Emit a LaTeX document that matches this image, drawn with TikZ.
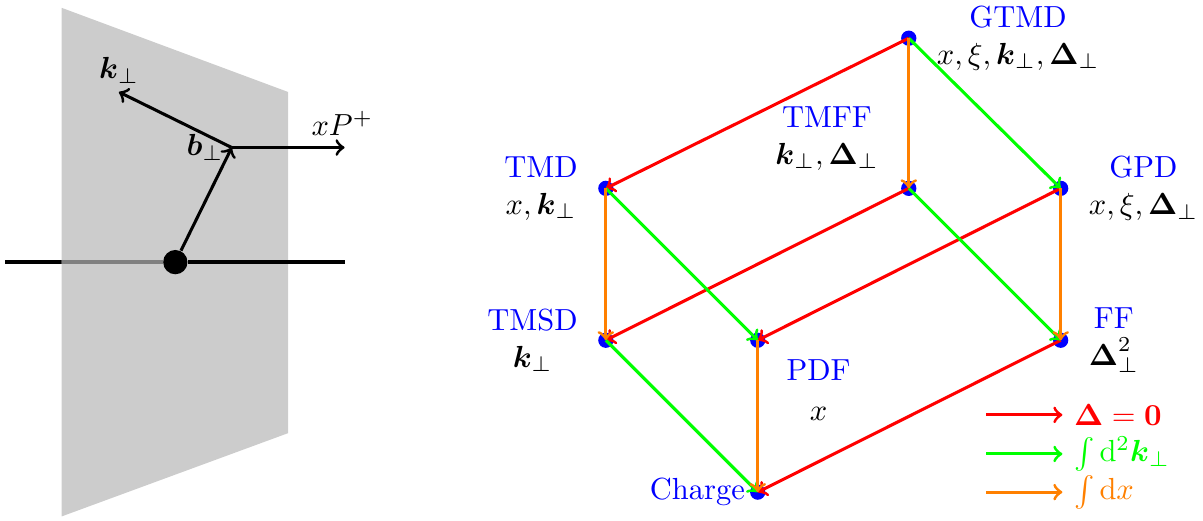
\documentclass[tikz,border=0pt]{standalone}
\usepackage{amsmath,amssymb}
\usepackage{tikz}
\usetikzlibrary{positioning}

\newcommand{\kperp}{\boldsymbol{k}_\perp}
\newcommand{\Dperp}{\boldsymbol{\Delta}_\perp}

\begin{document}
\begin{tikzpicture}[x=1cm,y=1cm]
\tikzstyle{vtx}=[circle,fill=blue,inner sep=0pt,minimum size=5pt]
\tikzstyle{lbl}=[align=center]
\tikzstyle{dzero}=[->,line width=1pt,red]
\tikzstyle{dkint}=[->,line width=1pt,green]
\tikzstyle{dxint}=[->,line width=1pt,orange]
\useasboundingbox (0,0) rectangle (13.86,6.0);

% transverse plane
\coordinate (lend) at (0.06,2.98);
\coordinate (rend) at (3.97,2.98);
\coordinate (pedge) at (0.71,2.98);
\draw[line width=1.4pt] (lend) -- (rend);
\fill[black!20] (0.71,5.91) -- (3.32,4.94) -- (3.32,1.01) -- (0.71,0.05) -- cycle;
\node[circle,fill=black,inner sep=0pt,minimum size=0.28cm] (q) at (2.02,2.98) {};
\draw[line width=1.4pt,black!50] (pedge) -- (q);
\draw[line width=1.4pt] (q) -- (rend);
\coordinate (j) at (2.67,4.30);
\coordinate (ktip) at (1.37,4.94);
\coordinate (ptip) at (3.97,4.30);
\draw[->,line width=1pt] (q) -- (j) node[left=-1pt] (blbl) {$\boldsymbol{b}_\perp$};
\draw[->,line width=1pt] (j) -- (ktip) node[above=-1pt] (klbl) {$\kperp$};
\draw[->,line width=1pt] (j) -- (ptip) node[pos=0.98,above] (plbl) {$xP^+$};

% cube of distributions
\node[vtx] (gtmd) at (10.47,5.56) {};
\node[vtx] (tmd) at (6.98,3.83) {};
\node[vtx] (tmff) at (10.47,3.83) {};
\node[vtx] (gpd) at (12.22,3.83) {};
\node[vtx] (tmsd) at (6.98,2.08) {};
\node[vtx] (pdf) at (8.73,2.08) {};
\node[vtx] (ff) at (12.22,2.08) {};
\node[vtx] (chg) at (8.73,0.33) {};

\draw[dzero] (gtmd.center) -- (tmd.center);
\draw[dzero] (tmff.center) -- (tmsd.center);
\draw[dzero] (gpd.center) -- (pdf.center);
\draw[dzero] (ff.center) -- (chg.center);
\draw[dkint] (gtmd.center) -- (gpd.center);
\draw[dkint] (tmd.center) -- (pdf.center);
\draw[dkint] (tmff.center) -- (ff.center);
\draw[dkint] (tmsd.center) -- (chg.center);
\draw[dxint] (gtmd.center) -- (tmff.center);
\draw[dxint] (tmd.center) -- (tmsd.center);
\draw[dxint] (gpd.center) -- (ff.center);
\draw[dxint] (pdf.center) -- (chg.center);

\node[lbl,right=3pt of gtmd] (gtmdl) {\textcolor{blue}{GTMD}\\$x,\xi,\kperp,\Dperp$};
\node[lbl,left=3pt of tmd] (tmdl) {\textcolor{blue}{TMD}\\$x,\kperp$};
\node[lbl,above left=0.5pt and 4.5pt of tmff] (tmffl) {\textcolor{blue}{TMFF}\\$\kperp,\Dperp$};
\node[lbl,right=3pt of gpd] (gpdl) {\textcolor{blue}{GPD}\\$x,\xi,\Dperp$};
\node[lbl,left=3pt of tmsd] (tmsdl) {\textcolor{blue}{TMSD}\\$\kperp$};
\node[lbl,below right=1pt and 4pt of pdf] (pdfl) {\textcolor{blue}{PDF}\\[1pt]$x$};
\node[lbl,right=3pt of ff] (ffl) {\textcolor{blue}{FF}\\$\boldsymbol{\Delta}_\perp^2$};
\node[lbl,left=-2pt of chg,text=blue] (chgl) {Charge};

% legend
\coordinate (za) at (11.36,1.22);
\coordinate (zb) at (12.24,1.22);
\coordinate (ka) at (11.36,0.77);
\coordinate (kb) at (12.24,0.77);
\coordinate (xa) at (11.36,0.33);
\coordinate (xb) at (12.24,0.33);
\draw[dzero] (za) -- (zb) node[right,text=red] (zlbl) {$\boldsymbol{\Delta}=\boldsymbol{0}$};
\draw[dkint] (ka) -- (kb) node[right,text=green] (klgd) {$\int\mathrm{d}^2\kperp$};
\draw[dxint] (xa) -- (xb) node[right,text=orange] (xlgd) {$\int\mathrm{d}x$};
\end{tikzpicture}
\end{document}
